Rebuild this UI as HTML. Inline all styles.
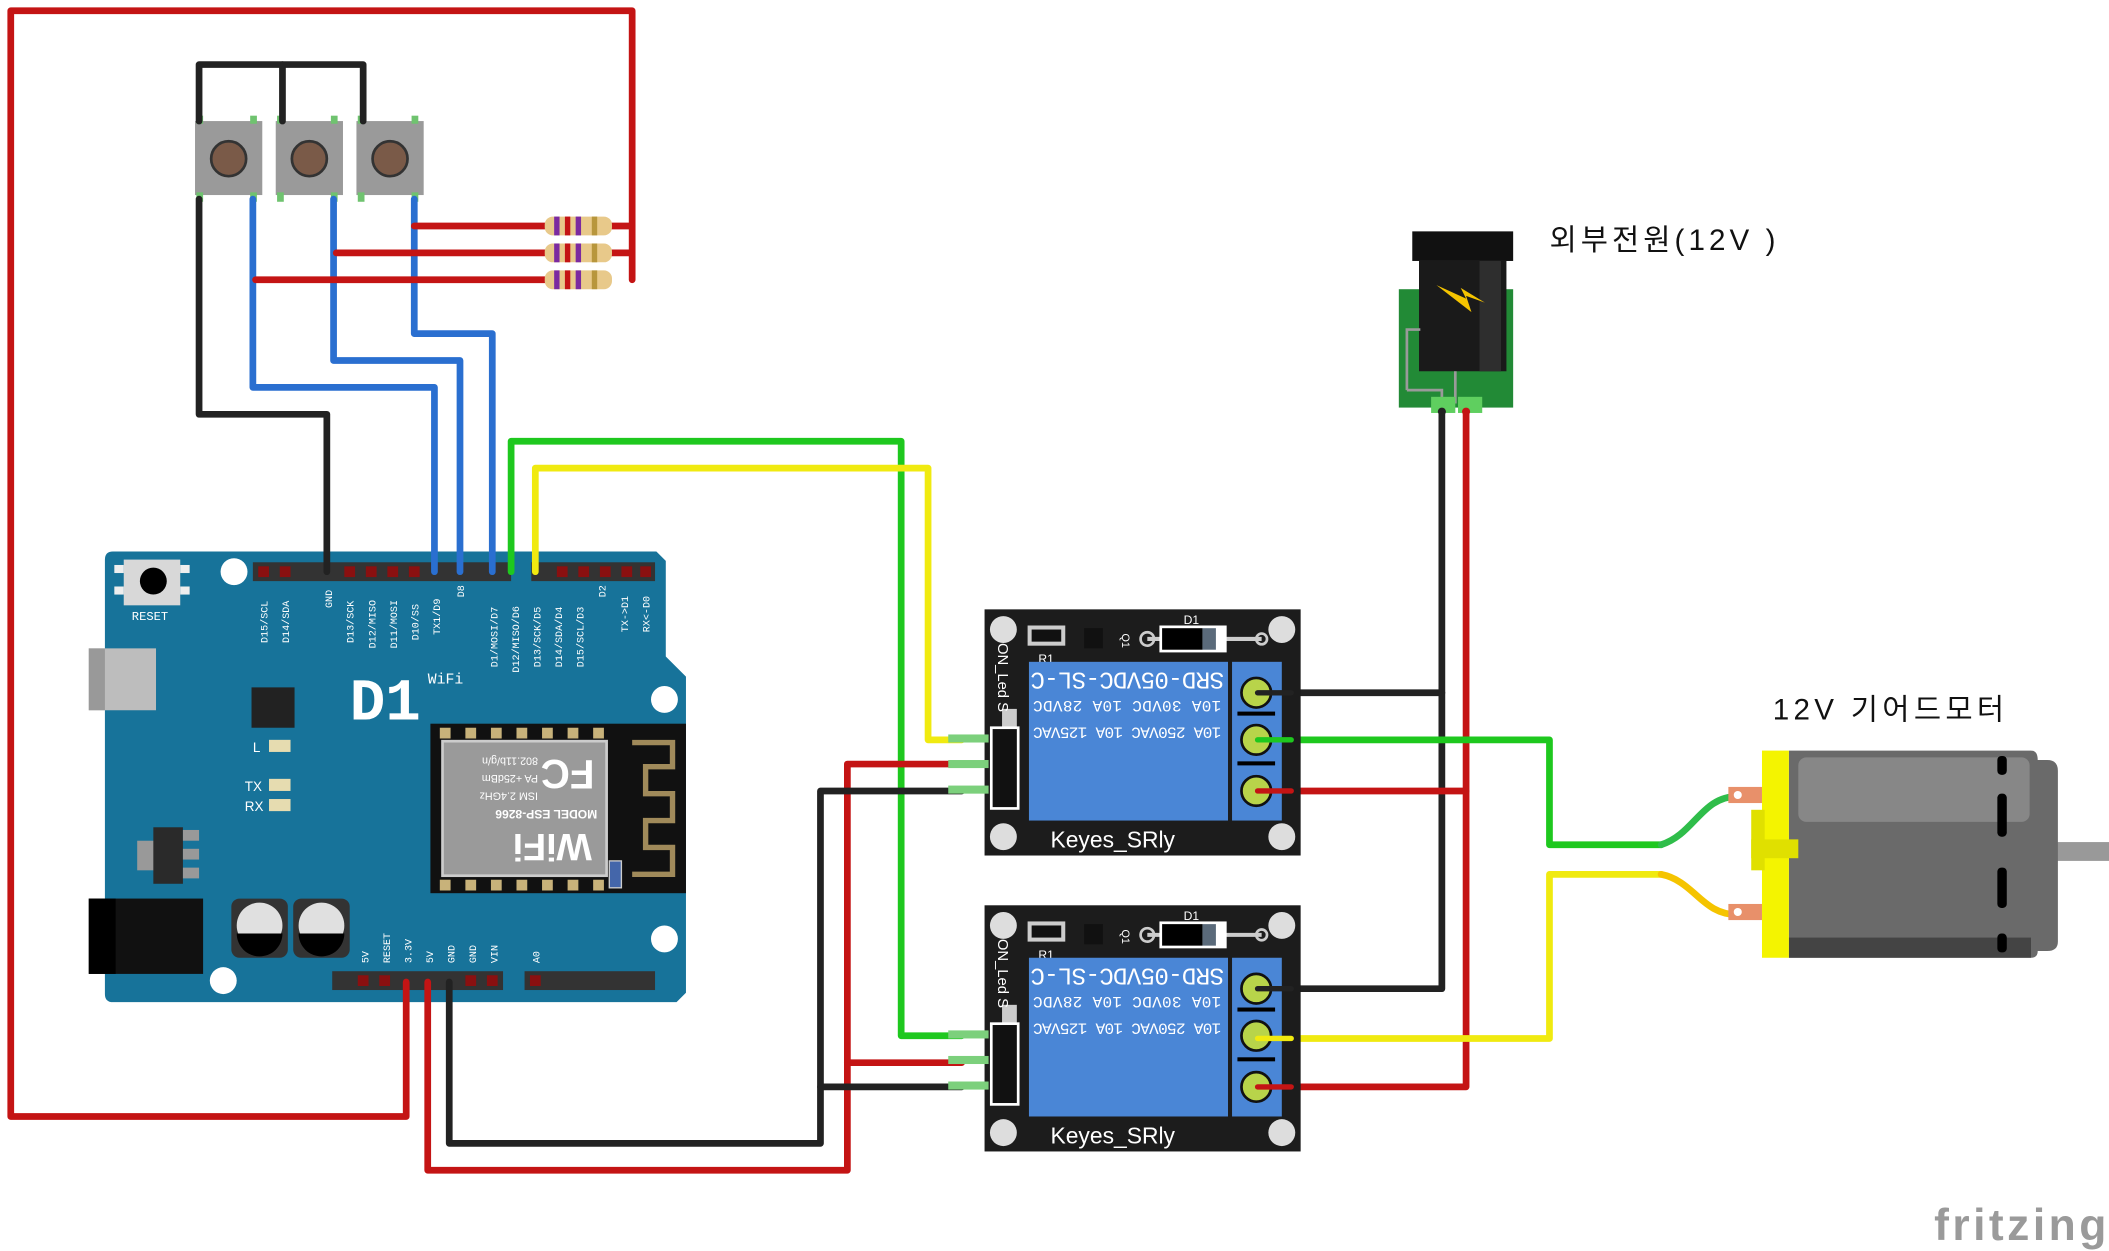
<!DOCTYPE html>
<html><head><meta charset="utf-8"><style>
html,body{margin:0;padding:0;background:#fff;}
svg{display:block}
text{font-family:"Liberation Sans","Noto Sans CJK KR",sans-serif;}
text.m{font-family:"Liberation Mono","DejaVu Sans Mono",monospace;}
</style></head><body>
<svg width="2109" height="1251" viewBox="0 0 1568 930" preserveAspectRatio="none" xmlns="http://www.w3.org/2000/svg">
<rect width="1568" height="930" fill="#fff"/>

<!-- Arduino D1 board -->
<path d="M84,410 L488,410 L495,417 L495,488 L510,503 L510,738 L503,745 L84,745 Q78,745 78,739 L78,416 Q78,410 84,410 Z" fill="#17739a"/>
<rect x="66" y="482" width="50" height="46" fill="#bdbdbd"/><rect x="66" y="482" width="12" height="46" fill="#999"/>
<rect x="92" y="416" width="42" height="34" fill="#d8d8d8"/><circle cx="114" cy="432" r="10" fill="#000"/>
<rect x="85" y="420" width="7" height="6" fill="#eee"/><rect x="85" y="436" width="7" height="6" fill="#eee"/><rect x="134" y="420" width="7" height="6" fill="#eee"/><rect x="134" y="436" width="7" height="6" fill="#eee"/>
<text x="98" y="461" font-size="9" fill="#fff" class="m">RESET</text>
<circle cx="174" cy="425" r="10" fill="#fff"/><circle cx="494" cy="520" r="10" fill="#fff"/><circle cx="494" cy="698" r="10" fill="#fff"/><circle cx="166" cy="729" r="10" fill="#fff"/>
<rect x="187" y="511" width="32" height="30" fill="#222"/>
<text x="188" y="559" font-size="10" fill="#fff">L</text><rect x="200" y="550" width="16" height="9" fill="#e6dcb0"/>
<text x="182" y="588" font-size="10" fill="#fff">TX</text><rect x="200" y="579" width="16" height="9" fill="#e6dcb0"/>
<text x="182" y="603" font-size="10" fill="#fff">RX</text><rect x="200" y="594" width="16" height="9" fill="#e6dcb0"/>
<rect x="102" y="625" width="14" height="22" fill="#999"/><rect x="114" y="615" width="22" height="42" fill="#2a2a2a"/><rect x="136" y="617" width="12" height="8" fill="#999"/><rect x="136" y="631" width="12" height="8" fill="#999"/><rect x="136" y="645" width="12" height="8" fill="#999"/>
<rect x="66" y="668" width="85" height="56" fill="#111"/><rect x="66" y="668" width="20" height="56" fill="#000"/>
<rect x="172" y="668" width="42" height="44" rx="6" fill="#333"/><circle cx="193" cy="688" r="17" fill="#e0e0e0"/><path d="M176,694 A17,17 0 0 0 210,694 Z" fill="#000"/>
<rect x="218" y="668" width="42" height="44" rx="6" fill="#333"/><circle cx="239" cy="688" r="17" fill="#e0e0e0"/><path d="M222,694 A17,17 0 0 0 256,694 Z" fill="#000"/>
<text x="260" y="535" font-size="44" font-weight="bold" fill="#fff" class="m">D1</text>
<text x="318" y="508" font-size="11" fill="#fff" class="m">WiFi</text>
<!-- esp module -->
<rect x="320" y="538" width="190" height="126" fill="#111"/>
<rect x="329" y="551" width="122" height="100" fill="#9a9a9a" stroke="#ccc" stroke-width="2"/>
<g fill="#c8b27a"><rect x="327" y="541" width="8" height="8"/><rect x="346" y="541" width="8" height="8"/><rect x="365" y="541" width="8" height="8"/><rect x="384" y="541" width="8" height="8"/><rect x="403" y="541" width="8" height="8"/><rect x="422" y="541" width="8" height="8"/><rect x="441" y="541" width="8" height="8"/>
<rect x="327" y="654" width="8" height="8"/><rect x="346" y="654" width="8" height="8"/><rect x="365" y="654" width="8" height="8"/><rect x="384" y="654" width="8" height="8"/><rect x="403" y="654" width="8" height="8"/><rect x="422" y="654" width="8" height="8"/><rect x="441" y="654" width="8" height="8"/></g>
<path d="M470,552 H500 V570 H480 V590 H500 V610 H480 V630 H500 V650 H470" fill="none" stroke="#a08a5a" stroke-width="4"/>
<rect x="453" y="640" width="9" height="20" fill="#4466aa" stroke="#ccc"/>
<g transform="rotate(180 390 600)"><text x="340" y="580" font-size="28" fill="#fff" font-weight="bold">WiFi</text><text x="336" y="598" font-size="9" fill="#fff" font-weight="bold">MODEL ESP-8266</text><text x="380" y="611" font-size="8" fill="#fff">ISM 2.4GHz</text><text x="380" y="624" font-size="8" fill="#fff">PA +25dBm</text><text x="380" y="637" font-size="8" fill="#fff">802.11b/g/n</text><text x="338" y="635" font-size="30" fill="#fff" font-weight="bold">FC</text></g>
<!-- headers -->
<rect x="188" y="418" width="192" height="14" fill="#333"/><rect x="395" y="418" width="92" height="14" fill="#333"/>
<rect x="247" y="722" width="127" height="14" fill="#333"/><rect x="390" y="722" width="97" height="14" fill="#333"/>
<g fill="#8a1010">
<rect x="192" y="421" width="8" height="8"/><rect x="208" y="421" width="8" height="8"/><rect x="256" y="421" width="8" height="8"/><rect x="272" y="421" width="8" height="8"/><rect x="288" y="421" width="8" height="8"/><rect x="304" y="421" width="8" height="8"/>
<rect x="414" y="421" width="8" height="8"/><rect x="430" y="421" width="8" height="8"/><rect x="446" y="421" width="8" height="8"/><rect x="462" y="421" width="8" height="8"/><rect x="476" y="421" width="8" height="8"/>
<rect x="266" y="725" width="8" height="8"/><rect x="282" y="725" width="8" height="8"/><rect x="346" y="725" width="8" height="8"/><rect x="362" y="725" width="8" height="8"/><rect x="394" y="725" width="8" height="8"/>
</g>
<g font-size="7.5" fill="#fff">
<text class="m" transform="translate(199,478) rotate(-90)">D15/SCL</text><text class="m" transform="translate(215,478) rotate(-90)">D14/SDA</text><text class="m" transform="translate(247,452) rotate(-90)">GND</text>
<text class="m" transform="translate(263,478) rotate(-90)">D13/SCK</text><text class="m" transform="translate(279,482) rotate(-90)">D12/MISO</text><text class="m" transform="translate(295,482) rotate(-90)">D11/MOSI</text><text class="m" transform="translate(311,476) rotate(-90)">D10/SS</text><text class="m" transform="translate(327,472) rotate(-90)">TX1/D9</text><text class="m" transform="translate(345,444) rotate(-90)">D8</text>
<text class="m" transform="translate(370,496) rotate(-90)">D1/MOSI/D7</text><text class="m" transform="translate(386,500) rotate(-90)">D12/MISO/D6</text><text class="m" transform="translate(402,496) rotate(-90)">D13/SCK/D5</text><text class="m" transform="translate(418,496) rotate(-90)">D14/SDA/D4</text><text class="m" transform="translate(434,496) rotate(-90)">D15/SCL/D3</text><text class="m" transform="translate(450,444) rotate(-90)">D2</text><text class="m" transform="translate(467,470) rotate(-90)">TX-&gt;D1</text><text class="m" transform="translate(483,470) rotate(-90)">RX&lt;-D0</text>
<text class="m" transform="translate(274,716) rotate(-90)">5V</text><text class="m" transform="translate(290,716) rotate(-90)">RESET</text><text class="m" transform="translate(306,716) rotate(-90)">3.3V</text><text class="m" transform="translate(322,716) rotate(-90)">5V</text><text class="m" transform="translate(338,716) rotate(-90)">GND</text><text class="m" transform="translate(354,716) rotate(-90)">GND</text><text class="m" transform="translate(370,716) rotate(-90)">VIN</text><text class="m" transform="translate(401,716) rotate(-90)">A0</text>
</g>

<!-- buttons -->
<g>
<rect x="145" y="90" width="50" height="55" fill="#9a9a9a"/><circle cx="170" cy="118" r="13" fill="#7a5a48" stroke="#333" stroke-width="2"/>
<rect x="205" y="90" width="50" height="55" fill="#9a9a9a"/><circle cx="230" cy="118" r="13" fill="#7a5a48" stroke="#333" stroke-width="2"/>
<rect x="265" y="90" width="50" height="55" fill="#9a9a9a"/><circle cx="290" cy="118" r="13" fill="#7a5a48" stroke="#333" stroke-width="2"/>
<g fill="#6fc36f"><rect x="146" y="86" width="5" height="6"/><rect x="186" y="86" width="5" height="6"/><rect x="206" y="86" width="5" height="6"/><rect x="246" y="86" width="5" height="6"/><rect x="266" y="86" width="5" height="6"/><rect x="306" y="86" width="5" height="6"/>
<rect x="146" y="143" width="5" height="7"/><rect x="186" y="143" width="5" height="7"/><rect x="206" y="143" width="5" height="7"/><rect x="246" y="143" width="5" height="7"/><rect x="266" y="143" width="5" height="7"/><rect x="306" y="143" width="5" height="7"/></g>
</g>

<!-- wires -->
<g fill="none" stroke-width="5" stroke-linejoin="round" stroke-linecap="round">
<polyline points="470,208 470,8 8,8 8,830 302,830 302,730" stroke="#c41414"/>
<polyline points="148,90 148,48 270,48 270,90" stroke="#222"/><line x1="210" y1="48" x2="210" y2="90" stroke="#222"/>
<polyline points="148,148 148,308 243,308 243,425" stroke="#222"/>
<polyline points="188,148 188,288 323,288 323,425" stroke="#2a6fd0"/>
<polyline points="248,148 248,268 342,268 342,425" stroke="#2a6fd0"/>
<polyline points="308,148 308,248 366,248 366,425" stroke="#2a6fd0"/>
<line x1="190" y1="208" x2="405" y2="208" stroke="#c41414"/><line x1="250" y1="188" x2="405" y2="188" stroke="#c41414"/><line x1="308" y1="168" x2="405" y2="168" stroke="#c41414"/>
<polyline points="380,425 380,328 670,328 670,770 715,770" stroke="#1ec81e"/>
<polyline points="398,425 398,348 690,348 690,550 715,550" stroke="#f0ea10"/>
<polyline points="318,730 318,870 630,870 630,568 715,568" stroke="#c41414"/><line x1="630" y1="790" x2="715" y2="790" stroke="#c41414"/>
<polyline points="334,730 334,850 610,850 610,588 715,588" stroke="#222"/><line x1="610" y1="808" x2="715" y2="808" stroke="#222"/>
<polyline points="1072,302 1072,735 935,735" stroke="#222"/><line x1="1072" y1="515" x2="935" y2="515" stroke="#222"/>
<polyline points="1090,302 1090,808 935,808" stroke="#c41414"/><line x1="1090" y1="588" x2="935" y2="588" stroke="#c41414"/>
<polyline points="935,550 1152,550 1152,628 1235,628" stroke="#1ec81e"/>
<path d="M1235,628 C1260,620 1265,592 1292,592" stroke="#2fbd4a"/>
<polyline points="935,772 1152,772 1152,650 1235,650" stroke="#f0ea10"/>
<path d="M1235,650 C1260,655 1265,680 1292,680" stroke="#f5c400"/>
<line x1="455" y1="168" x2="470" y2="168" stroke="#c41414"/><line x1="455" y1="188" x2="470" y2="188" stroke="#c41414"/>
</g>
<!-- resistors -->
<g>
<rect x="405" y="161" width="50" height="14" rx="6" fill="#e8c98a"/><rect x="412" y="161" width="4" height="14" fill="#7b2aa0"/><rect x="420" y="161" width="4" height="14" fill="#c41414"/><rect x="428" y="161" width="4" height="14" fill="#7b2aa0"/><rect x="440" y="161" width="4" height="14" fill="#b8963c"/>
<rect x="405" y="181" width="50" height="14" rx="6" fill="#e8c98a"/><rect x="412" y="181" width="4" height="14" fill="#7b2aa0"/><rect x="420" y="181" width="4" height="14" fill="#c41414"/><rect x="428" y="181" width="4" height="14" fill="#7b2aa0"/><rect x="440" y="181" width="4" height="14" fill="#b8963c"/>
<rect x="405" y="201" width="50" height="14" rx="6" fill="#e8c98a"/><rect x="412" y="201" width="4" height="14" fill="#7b2aa0"/><rect x="420" y="201" width="4" height="14" fill="#c41414"/><rect x="428" y="201" width="4" height="14" fill="#7b2aa0"/><rect x="440" y="201" width="4" height="14" fill="#b8963c"/>
</g>

<!-- relays -->
<g id="relay">
<rect x="732" y="453" width="235" height="183" fill="#1c1c1c"/>
<circle cx="746" cy="468" r="10" fill="#ddd"/><circle cx="953" cy="468" r="10" fill="#ddd"/><circle cx="746" cy="622" r="10" fill="#ddd"/><circle cx="953" cy="622" r="10" fill="#ddd"/>
<rect x="764" y="465" width="28" height="15" fill="#ccc"/><rect x="767" y="468" width="22" height="9" fill="#111"/>
<text x="772" y="493" font-size="9" fill="#fff">R1</text>
<rect x="806" y="467" width="14" height="15" fill="#111"/><text x="825" y="468" font-size="8" fill="#fff" transform="rotate(90 828 474)">Q1</text>
<circle cx="853" cy="475" r="5" fill="none" stroke="#ccc" stroke-width="2"/><line x1="853" y1="475" x2="938" y2="475" stroke="#ccc" stroke-width="3"/><circle cx="938" cy="475" r="4" fill="none" stroke="#ccc" stroke-width="2"/>
<rect x="862" y="465" width="50" height="20" fill="#fff"/><rect x="864" y="467" width="30" height="16" fill="#000"/><rect x="894" y="467" width="10" height="16" fill="#5a6a7a"/>
<text x="880" y="464" font-size="9" fill="#fff">D1</text>
<rect x="765" y="492" width="148" height="118" fill="#4a86d6"/>
<rect x="916" y="492" width="37" height="118" fill="#4a86d6"/>
<g transform="rotate(180 838 525)" fill="#fff"><text x="766" y="550" font-size="18" class="m" textLength="144">SRD-05VDC-SL-C</text><text x="768" y="529" font-size="12" class="m" textLength="140">10A  30VDC  10A  28VDC</text><text x="768" y="509" font-size="12" class="m" textLength="140">10A 250VAC  10A 125VAC</text></g>
<g><circle cx="934" cy="515" r="11" fill="#b8d44a" stroke="#111" stroke-width="2"/><circle cx="934" cy="550" r="11" fill="#b8d44a" stroke="#111" stroke-width="2"/><circle cx="934" cy="588" r="11" fill="#b8d44a" stroke="#111" stroke-width="2"/>
<rect x="920" y="529" width="28" height="3" fill="#000"/><rect x="920" y="566" width="28" height="3" fill="#000"/></g>
<rect x="745" y="527" width="11" height="16" fill="#ccc"/>
<text x="742" y="478" font-size="11" fill="#fff" transform="rotate(90 742 478)">ON_Led  S</text>
<rect x="737" y="541" width="20" height="60" fill="#111" stroke="#fff" stroke-width="2"/>
<g fill="#7cd07c"><rect x="705" y="546" width="30" height="6"/><rect x="705" y="565" width="30" height="6"/><rect x="705" y="584" width="30" height="6"/></g>
<text x="781" y="630" font-size="17" fill="#fff">Keyes_SRly</text>
</g>
<use href="#relay" transform="translate(0,220)"/>
<g stroke-width="4" stroke-linecap="round">
<line x1="935" y1="515" x2="960" y2="515" stroke="#222"/><line x1="935" y1="550" x2="960" y2="550" stroke="#1ec81e"/><line x1="935" y1="588" x2="960" y2="588" stroke="#c41414"/>
<line x1="935" y1="735" x2="960" y2="735" stroke="#222"/><line x1="935" y1="772" x2="960" y2="772" stroke="#f0ea10"/><line x1="935" y1="808" x2="960" y2="808" stroke="#c41414"/>
</g>

<!-- power jack -->
<rect x="1040" y="215" width="85" height="88" fill="#228a36"/>
<rect x="1050" y="172" width="75" height="22" fill="#111"/>
<rect x="1055" y="194" width="65" height="82" fill="#1a1a1a"/><rect x="1100" y="194" width="16" height="82" fill="#2e2e2e"/>
<path d="M1068,212 L1090,222 L1086,214 L1104,225 L1090,220 L1094,232 Z" fill="#f5c400"/>
<path d="M1046,290 V245 H1056 M1046,290 H1072 V300 M1082,276 V300" stroke="#9a9a9a" stroke-width="2" fill="none"/>
<rect x="1064" y="295" width="18" height="12" fill="#5fcf5f"/><rect x="1084" y="295" width="18" height="12" fill="#5fcf5f"/>
<circle cx="1072" cy="306" r="3" fill="#222"/><circle cx="1090" cy="306" r="3" fill="#c41414"/>

<!-- motor -->
<rect x="1528" y="626" width="40" height="14" fill="#999"/>
<path d="M1330,558 H1510 Q1515,558 1515,565 H1522 Q1530,565 1530,573 V700 Q1530,707 1522,707 H1515 Q1515,712 1510,712 H1330 Z" fill="#6a6a6a"/>
<rect x="1337" y="563" width="172" height="48" rx="6" fill="#878787"/>
<rect x="1330" y="697" width="180" height="15" fill="#444"/>
<g fill="#000"><rect x="1485" y="562" width="7" height="14" rx="3"/><rect x="1485" y="590" width="7" height="32" rx="3"/><rect x="1485" y="645" width="7" height="30" rx="3"/><rect x="1485" y="694" width="7" height="14" rx="3"/></g>
<rect x="1310" y="558" width="20" height="154" fill="#f4f400"/>
<rect x="1302" y="602" width="10" height="45" fill="#e0e000"/><rect x="1302" y="624" width="35" height="14" fill="#e0e000"/>
<rect x="1285" y="585" width="25" height="12" fill="#e8906a"/><circle cx="1292" cy="591" r="3" fill="#fff"/>
<rect x="1285" y="672" width="25" height="12" fill="#e8906a"/><circle cx="1292" cy="678" r="3" fill="#fff"/>

<!-- labels -->
<text x="1152" y="186" font-size="22" fill="#111" textLength="168">외부전원(12V )</text>
<text x="1318" y="535" font-size="22" fill="#111" textLength="172">12V 기어드모터</text>
<text x="1438" y="922" font-size="33" fill="#9a9a9a" font-weight="bold" textLength="128">fritzing</text>
</svg>
</body></html>
